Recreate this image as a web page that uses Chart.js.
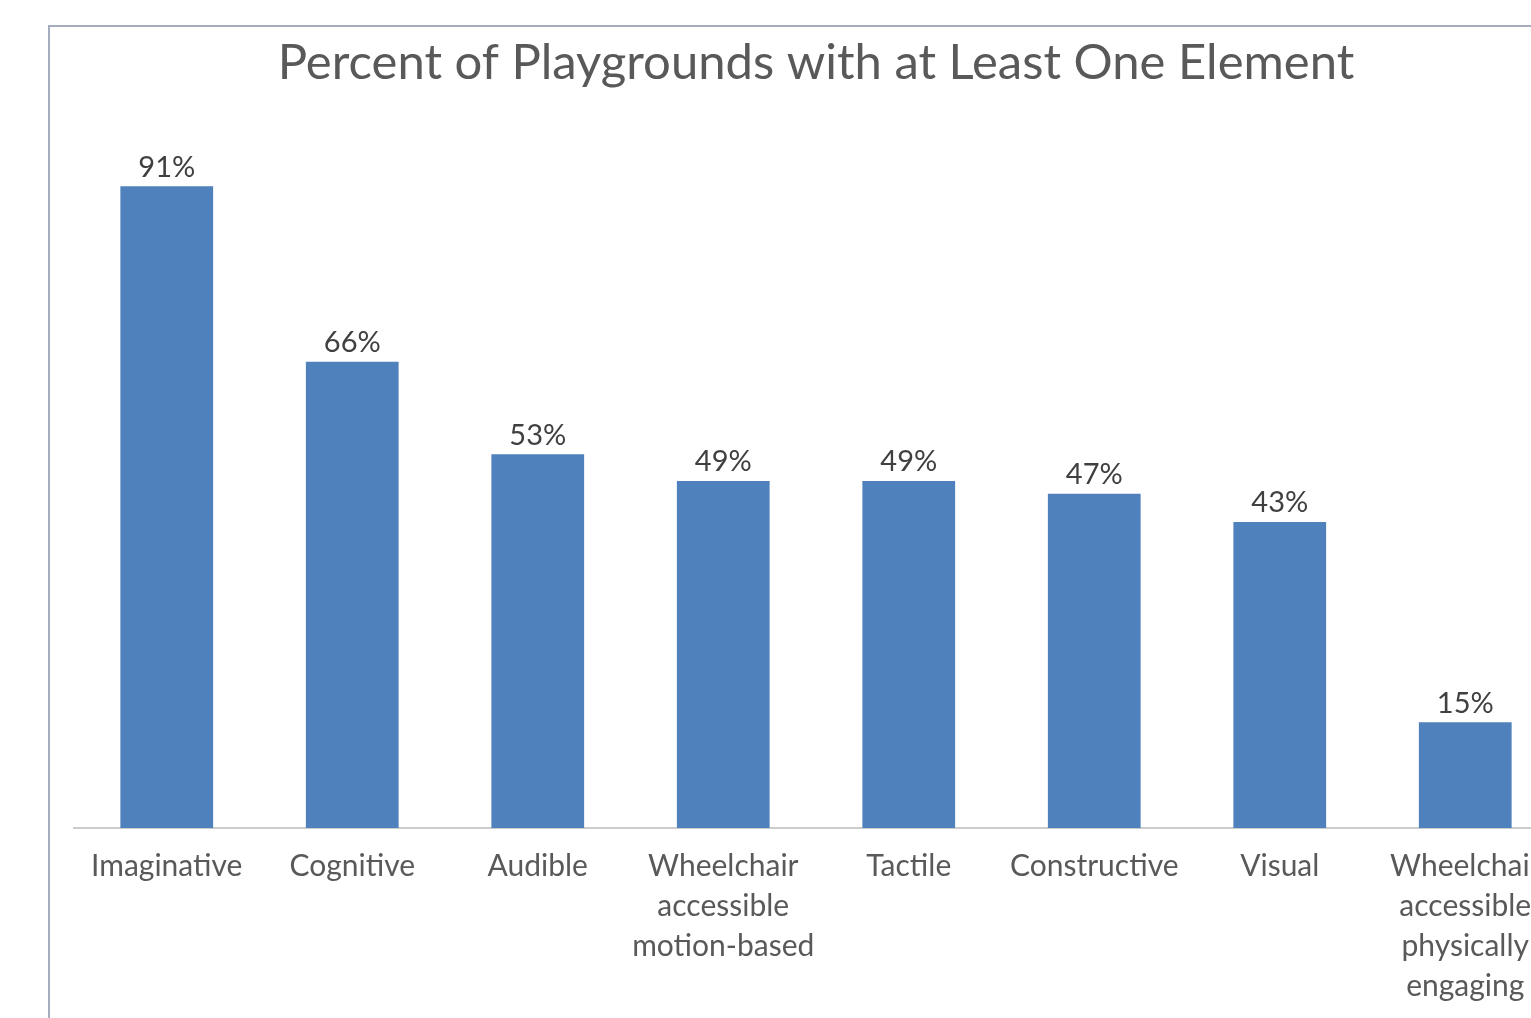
<!DOCTYPE html>
<html>
<head>
<meta charset="utf-8">
<script src="https://cdn.jsdelivr.net/npm/chart.js@4.4.1/dist/chart.umd.min.js"></script>
<style>
    html, body { margin: 0; padding: 0; background: #fff; overflow: hidden; width: 1531px; height: 1018px; }
    #frame { position: absolute; left: 48px; top: 25px; width: 2000px; height: 2000px;
             border-left: 2px solid #a3adbd; border-top: 2px solid #a3adbd; }
    #chart { position: absolute; left: 0; top: 0; }
</style>
</head>
<body>
<div id="frame"></div>
<canvas id="chart" width="1560" height="1100"></canvas>
<script>
// Chart data (bar heights, labels shown rounded)
const categories = [
    'Imaginative',
    'Cognitive',
    'Audible',
    ['Wheelchair', 'accessible', 'motion-based'],
    'Tactile',
    'Constructive',
    'Visual',
    ['Wheelchair', 'accessible', 'physically', 'engaging']
];
const percentValues = [91, 66.1, 53, 49.2, 49.2, 47.4, 43.4, 15];

const FONT = 'Lato, "Open Sans", sans-serif';

// Value labels above the bars
const barLabels = {
    id: 'barLabels',
    afterDatasetsDraw(chart) {
        const ctx = chart.ctx;
        const meta = chart.getDatasetMeta(0);
        ctx.save();
        ctx.font = '29px ' + FONT;
        ctx.fillStyle = '#404040';
        ctx.textAlign = 'center';
        ctx.textBaseline = 'middle';
        meta.data.forEach((bar, i) => {
            ctx.fillText(Math.round(percentValues[i]) + '%', bar.x, bar.y - 19);
        });
        ctx.restore();
    }
};

new Chart(document.getElementById('chart').getContext('2d'), {
    type: 'bar',
    data: {
        labels: categories,
        datasets: [{
            data: percentValues,
            backgroundColor: '#4f81bd',
            borderWidth: 0,
            categoryPercentage: 1,
            barPercentage: 0.5
        }]
    },
    options: {
        responsive: false,
        animation: false,
        devicePixelRatio: 1,
        layout: { padding: { left: 74, right: 2, top: 34, bottom: 0 } },
        plugins: {
            legend: { display: false },
            tooltip: { enabled: false },
            title: {
                display: true,
                text: 'Percent of Playgrounds with at Least One Element',
                color: '#595959',
                font: { family: FONT, size: 49, weight: 'normal', lineHeight: 1.2 },
                padding: { top: 0, bottom: 30 }
            }
        },
        scales: {
            y: { display: false, min: 0, max: 100 },
            x: {
                grid: { display: false, drawTicks: false },
                border: { display: true, color: '#cccccc', width: 2 },
                ticks: {
                    color: '#595959',
                    font: { family: FONT, size: 30, lineHeight: '40px' },
                    padding: 18,
                    maxRotation: 0,
                    autoSkip: false
                },
                afterFit(scale) { scale.height = 272; }
            }
        }
    },
    plugins: [barLabels]
});
</script>
</body>
</html>
